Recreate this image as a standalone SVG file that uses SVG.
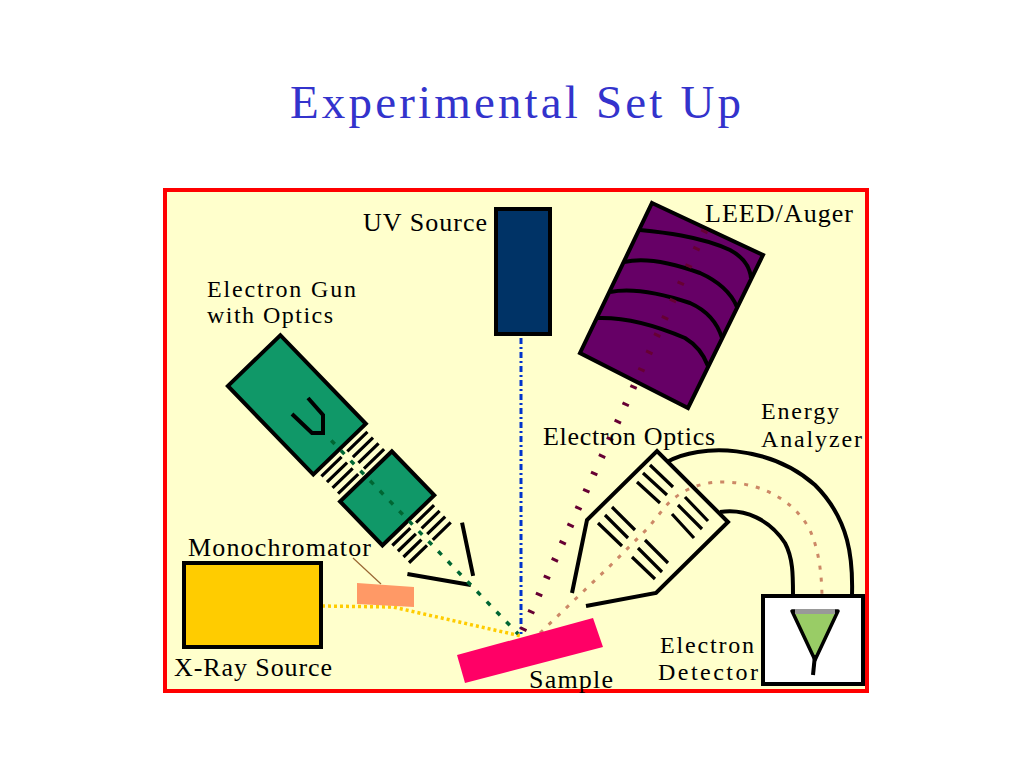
<svg xmlns="http://www.w3.org/2000/svg" width="1024" height="768" viewBox="0 0 1024 768">
<style>
.lbl{font-family:"Liberation Serif","Times New Roman",serif;font-size:26px;fill:#000}
.sm{font-size:24px}
.ttl{font-family:"Liberation Serif","Times New Roman",serif;font-size:47px;fill:#3333CC}
.ol{stroke:#000;stroke-width:4;stroke-linejoin:miter}
.fin{stroke:#000;stroke-width:3.2;fill:none}
.ln{fill:none;stroke:#000;stroke-width:4}
</style>
<rect x="0" y="0" width="1024" height="768" fill="#FFFFFF"/>
<text class="ttl" x="290" y="118" textLength="451" lengthAdjust="spacing">Experimental Set Up</text>
<rect id="frame" x="165" y="190" width="702" height="501" fill="#FFFFCC" stroke="#FF0000" stroke-width="4"/>

<g id="connectors">
  <line x1="521" y1="338" x2="521" y2="634" stroke="#0033CC" stroke-width="3" stroke-dasharray="6 3 2 3"/>
  <path d="M322,606 L393,607 L521,636" fill="none" stroke="#FFCC00" stroke-width="3.5" stroke-dasharray="3 3"/>
  <path d="M540,633 L613,563 L648,528 L665,507 C678,492 698,482 722,482 C765,482 800,505 812,535 C820,555 822,580 822,600" fill="none" stroke="#CC8866" stroke-width="3" stroke-dasharray="4 8"/>
  <line x1="353" y1="558" x2="381" y2="584" stroke="#996633" stroke-width="1.2"/>
</g>

<g id="uv-source">
  <rect x="496" y="209" width="54" height="125" fill="#003366" class="ol"/>
  <text class="lbl" x="363" y="231" textLength="124" lengthAdjust="spacing">UV Source</text>
</g>

<g id="leed-auger">
  <polygon points="652,203 763,255 688,408 580,353" fill="#660066" class="ol"/>
  <path class="ln" d="M640,230 C660,232 700,236 730,250 C745,258 750,268 751,278"/>
  <path class="ln" d="M624,262 C645,257 670,262 700,273 C720,282 732,295 737,307"/>
  <path class="ln" d="M610,292 C630,288 660,293 690,303 C710,312 718,325 722,338"/>
  <path class="ln" d="M597,318 C625,317 655,325 685,338 C700,347 705,358 708,366"/>
  <line x1="705" y1="230" x2="522" y2="632" stroke="#660033" stroke-width="7" stroke-dasharray="3 16"/>
  <text class="lbl" x="705" y="222" textLength="148" lengthAdjust="spacing">LEED/Auger</text>
</g>

<g id="electron-gun">
  <g transform="translate(296.5,404.5) rotate(46)">
    <rect x="-61" y="-36.5" width="123" height="73" fill="#109868" class="ol"/>
    <rect x="100" y="-36" width="61" height="72" fill="#109868" class="ol"/>
    <g class="fin">
      <path d="M69,-32 V-4 M69,4 V32 M77,-32 V-4 M77,4 V32 M85,-32 V-4 M85,4 V32 M93,-32 V-4 M93,4 V32"/>
      <path d="M168,-29 V-4 M168,4 V29 M176,-29 V-4 M176,4 V29 M184,-29 V-4 M184,4 V29 M192,-29 V-4 M192,4 V29"/>
      <path d="M200,-37 L246,-8 M199,38 L251,0" stroke-width="4"/>
    </g>
    <line x1="50" y1="0" x2="319" y2="0" stroke="#006633" stroke-width="3.5" stroke-dasharray="5 9"/>
  </g>
  <polyline points="292,414 312,433 323,433 323,415 308,398" class="ln"/>
  <text class="lbl sm" x="207" y="297" textLength="149" lengthAdjust="spacing">Electron Gun</text>
  <text class="lbl sm" x="207" y="323" textLength="126" lengthAdjust="spacing">with Optics</text>
</g>

<g id="electron-optics">
  <polyline points="572,593 587,520 657,451 728,522 656,593 586,606" class="ln"/>
  <path class="fin" stroke-width="3.5" d="M650,465 L673,487 M643,473 L667,495 M637,482 L660,503
    M685,497 L708,521 M678,505 L702,529 M672,514 L694,538
    M612,507 L635,530 M605,515 L628,538 M598,523 L622,546
    M645,540 L668,563 M638,548 L662,572 M632,557 L655,579"/>
  <text class="lbl" x="543" y="445" textLength="172" lengthAdjust="spacing">Electron Optics</text>
</g>

<g id="energy-analyzer">
  <path class="ln" d="M667,462 C700,443 770,445 815,485 C850,520 853,560 852,595"/>
  <path class="ln" d="M720,512 C745,508 770,520 785,543 C793,558 793,575 793,595"/>
  <text class="lbl sm" x="761" y="419" textLength="78" lengthAdjust="spacing">Energy</text>
  <text class="lbl sm" x="761" y="447" textLength="101" lengthAdjust="spacing">Analyzer</text>
</g>

<g id="electron-detector">
  <rect x="763" y="596" width="100" height="88" fill="#FFFFFF" class="ol"/>
  <polygon points="792,611 838,611 815,660" fill="#99CC66" stroke="#000" stroke-width="3.5" stroke-linejoin="round"/>
  <rect x="795" y="609" width="40" height="5" fill="#999999"/>
  <line x1="815" y1="655" x2="813" y2="675" stroke="#000" stroke-width="4"/>
  <text class="lbl sm" x="660" y="653" textLength="94" lengthAdjust="spacing">Electron</text>
  <text class="lbl sm" x="658" y="680" textLength="100" lengthAdjust="spacing">Detector</text>
</g>

<g id="x-ray-source">
  <rect x="184" y="563" width="137" height="84" fill="#FFCC00" class="ol"/>
  <text class="lbl" x="174" y="676" textLength="158" lengthAdjust="spacing">X-Ray Source</text>
</g>

<g id="monochromator">
  <polygon points="357,583 414,587 414,607 357,604" fill="#FF9966"/>
  <text class="lbl" x="188" y="556" textLength="183" lengthAdjust="spacing">Monochromator</text>
</g>

<g id="sample">
  <polygon points="457,655 593,618 603,647 465,683" fill="#FF0066"/>
  <text class="lbl" x="529" y="688" textLength="84" lengthAdjust="spacing">Sample</text>
</g>
</svg>
